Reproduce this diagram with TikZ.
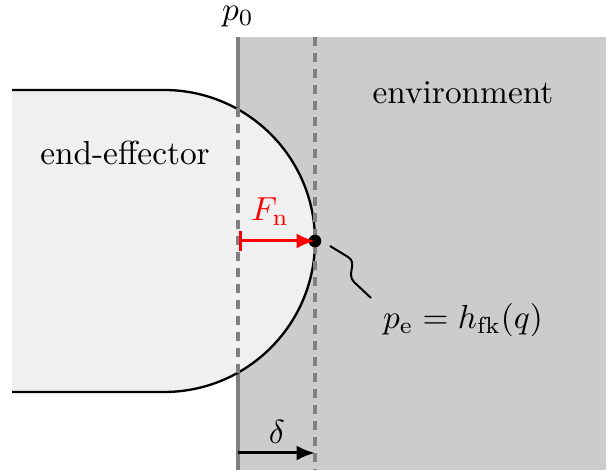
\documentclass[tikz,border=0pt]{standalone}
\usetikzlibrary{arrows.meta}
\definecolor{envgray}{RGB}{204,204,204}
\definecolor{eegray}{RGB}{240,240,240}
\definecolor{linegray}{RGB}{128,128,128}
\begin{document}
\begin{tikzpicture}[x=0.3pt,y=-0.3pt,
  gdash/.style={draw=linegray,line width=1pt,dash pattern=on 2.7pt off 2.1pt},
  lbl/.style={inner sep=0pt,font=\normalsize}]
\useasboundingbox (0,0) rectangle (606,470);
% environment
\path[fill=envgray] (238,37) rectangle (606,470);
\draw[linegray,line width=1pt] (238,37) -- (238,470);
% end-effector
\path[fill=eegray] (12,90) -- (164,90) arc[start angle=90,end angle=-90,x radius=151,y radius=-151] -- (12,392) -- cycle;
\draw[line width=0.7pt] (12,90) -- (164,90) arc[start angle=90,end angle=-90,x radius=151,y radius=-151] -- (12,392);
% dashed lines
\coordinate (d0t) at (238,92);
\coordinate (d0b) at (238,390);
\draw[gdash] (d0t) -- (d0b);
\coordinate (d1t) at (315,37);
\coordinate (d1b) at (315,470);
\draw[gdash] (d1t) -- (d1b);
% contact point and force
\coordinate (fs) at (239,241);
\node[circle,fill=black,inner sep=0pt,minimum size=3.8pt] (pe) at (315,241) {};
\draw[red,line width=0.9pt,{Bar[width=6pt]}-{Latex[length=5.5pt,width=4.5pt]}] (fs) -- (pe.center);
\node[lbl,red] (fn) at (270,212) {$F_{\mathrm{n}}$};
% label with snake
\node[lbl] (pel) at (463,320) {$p_{\mathrm{e}} = h_{\mathrm{fk}}(q)$};
\coordinate (s0) at (330,246);
\coordinate (s1) at (371,298);
\draw[line width=0.6pt] (s0) -- (348,257) .. controls (358,263) and (346,274) .. (354,282) -- (s1);
% delta
\coordinate (da) at (238,453);
\coordinate (db) at (315,453);
\draw[line width=0.9pt,-{Latex[length=5.5pt,width=4.5pt]}] (da) -- (db);
\node[lbl] (dl) at (277,432) {$\delta$};
% texts
\node[lbl] (p0) at (238,17) {$p_0$};
\node[lbl] (env) at (463,93) {environment};
\node[lbl] (ee) at (125,153) {end-effector};
\end{tikzpicture}
\end{document}
